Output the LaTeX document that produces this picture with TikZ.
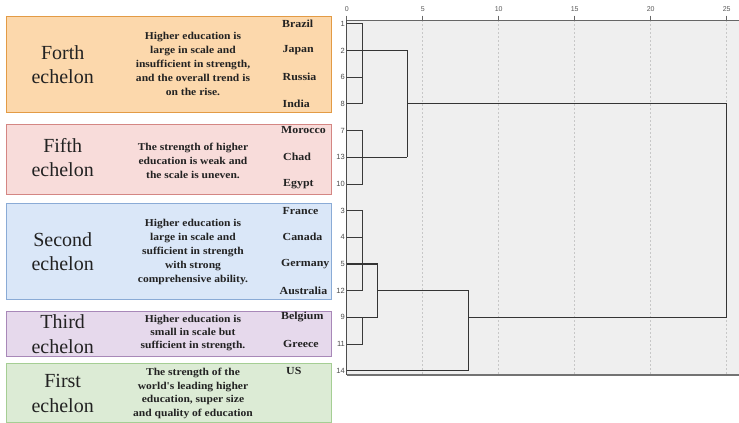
\documentclass[tikz,border=0pt]{standalone}
\usepackage{fontspec}
\setmainfont{Liberation Serif}
\newfontfamily\axisfont{Liberation Sans}
\newfontfamily\descfont[FakeStretch=1.1]{Liberation Serif}
\definecolor{forthfill}{HTML}{FCD8AC}
\definecolor{forthdraw}{HTML}{E39B45}
\definecolor{fifthfill}{HTML}{F8DCDA}
\definecolor{fifthdraw}{HTML}{D48683}
\definecolor{secondfill}{HTML}{DAE7F8}
\definecolor{seconddraw}{HTML}{8AABD6}
\definecolor{thirdfill}{HTML}{E6D9EC}
\definecolor{thirddraw}{HTML}{A888B8}
\definecolor{firstfill}{HTML}{DCEBD5}
\definecolor{firstdraw}{HTML}{A5CE94}
\definecolor{plotbg}{HTML}{EFEFEF}
\definecolor{txt}{HTML}{222222}
\definecolor{dendro}{HTML}{3A3A3A}
\begin{document}
\begin{tikzpicture}[x=1pt,y=-1pt,
  groupbox/.style={line width=1pt,minimum width=325.3pt,anchor=north west,inner sep=0pt},
  title/.style={font=\fontsize{20}{24.5}\selectfont,align=center,text=txt,inner sep=0pt},
  desc/.style={font=\descfont\bfseries\fontsize{10.5}{14}\selectfont,align=center,text=txt,inner sep=0pt},
  country/.style={font=\descfont\bfseries\fontsize{10.8}{12}\selectfont,anchor=west,text=txt,inner sep=0pt},
  rowlab/.style={font=\axisfont\fontsize{7.5}{9}\selectfont,anchor=east,text=black!70,inner sep=0pt},
  ticklab/.style={font=\axisfont\fontsize{7}{8}\selectfont,text=black!65,inner sep=0pt},
  grid line/.style={draw=black!22,dash pattern=on 2pt off 2pt,line width=0.6pt},
  leafline/.style={draw=dendro,line width=0.8pt},
  clusterline/.style={draw=dendro!90!black,line width=1.1pt}
]
\useasboundingbox (0,0) rectangle (739,423);
\fill[white] (0,0) rectangle (739,423);

% ---- group boxes ----
\node[groupbox,fill=forthfill,draw=forthdraw,minimum height=96.6pt] (bforth) at (5.7,15.7) {};
\node[groupbox,fill=fifthfill,draw=fifthdraw,minimum height=70pt] (bfifth) at (5.7,124) {};
\node[groupbox,fill=secondfill,draw=seconddraw,minimum height=95.7pt] (bsecond) at (5.7,203.3) {};
\node[groupbox,fill=thirdfill,draw=thirddraw,minimum height=45.6pt] (bthird) at (5.7,310.7) {};
\node[groupbox,fill=firstfill,draw=firstdraw,minimum height=58.5pt] (bfirst) at (5.7,363.3) {};

% ---- titles ----
\node[title] (tforth) at (62.7,64.5) {Forth\\echelon};
\node[title] (tfifth) at (62.7,157.5) {Fifth\\echelon};
\node[title] (tsecond) at (62.7,251.5) {Second\\echelon};
\node[title] (tthird) at (62.7,334) {Third\\echelon};
\node[title] (tfirst) at (62.7,393.5) {First\\echelon};

% ---- descriptions ----
\node[desc] (dforth) at (193,64) {Higher education is\\large in scale and\\insufficient in strength,\\and the overall trend is\\on the rise.};
\node[desc] (dfifth) at (193,160.5) {The strength of higher\\education is weak and\\the scale is uneven.};
\node[desc] (dsecond) at (193,251.5) {Higher education is\\large in scale and\\sufficient in strength\\with strong\\comprehensive ability.};
\node[desc,font=\descfont\bfseries\fontsize{10.5}{13}\selectfont] (dthird) at (193,333) {Higher education is\\small in scale but\\sufficient in strength.};
\node[desc,font=\descfont\bfseries\fontsize{10.5}{13.5}\selectfont] (dfirst) at (193,393.5) {The strength of the\\world's leading higher\\education, super size\\and quality of education};

% ---- plot area ----
\fill[plotbg] (346.7,20) rectangle (739,375);
\foreach \v in {5,10,15,20,25}{
  \draw[grid line] ({346.7+15.2*\v},20) -- ({346.7+15.2*\v},375);
}
\foreach \v in {0,5,10,15,20,25}{
  \draw[black!60,line width=0.6pt] ({346.7+15.2*\v},15.5) -- ({346.7+15.2*\v},20);
  \node[ticklab] (tick\v) at ({346.7+15.2*\v},9) {\v};
}
\draw[black!60,line width=1pt] (346.7,20) -- (739,20);
\draw[black!55,line width=1.4pt] (346.7,375) -- (739,375);
\draw[black!70,line width=0.8pt] (346.7,20) -- (346.7,375);

% ---- leaves ----
\foreach \n/\r in {1/0,2/1,6/2,8/3,7/4,13/5,10/6,3/7,4/8,5/9,12/10,9/11,11/12,14/13}{
  \coordinate (l\n) at (346.7,{23.7+26.7*\r});
  \node[rowlab] (r\n) at (345,{23.7+26.7*\r}) {\n};
}

% ---- countries ----
\node[country] (cbrazil) at ([xshift=-64.7pt]l1) {Brazil};
\node[country] (cjapan) at ([xshift=-64.2pt]l2) {Japan};
\node[country] (crussia) at ([xshift=-64.2pt]l6) {Russia};
\node[country] (cindia) at ([xshift=-64.2pt]l8) {India};
\node[country] (cmorocco) at ([xshift=-65.7pt]l7) {Morocco};
\node[country] (cchad) at ([xshift=-63.7pt]l13) {Chad};
\node[country] (cegypt) at ([xshift=-63.7pt]l10) {Egypt};
\node[country] (cfrance) at ([xshift=-64.2pt]l3) {France};
\node[country] (ccanada) at ([xshift=-64.2pt]l4) {Canada};
\node[country] (cgermany) at ([xshift=-65.7pt]l5) {Germany};
\node[country] (caustralia) at ([xshift=-67.2pt]l12) {Australia};
\node[country] (cbelgium) at ([xshift=-65.7pt]l9) {Belgium};
\node[country] (cgreece) at ([xshift=-63.7pt]l11) {Greece};
\node[country] (cus) at ([xshift=-60.7pt]l14) {US};

% ---- merge levels ----
\coordinate (v1) at (362,0);
\coordinate (v2) at (377.3,0);
\coordinate (v4) at (407.3,0);
\coordinate (v8) at (468.3,0);
\coordinate (v25) at (726.7,0);

% ---- dendrogram ----
\draw[leafline] (l1) -- (l1-|v1) -- (l8-|v1) -- (l8);
\draw[leafline] (l6) -- (l6-|v1);
\draw[clusterline] (l2) -- (l2-|v4);
\draw[leafline] (l7) -- (l7-|v1) -- (l10-|v1) -- (l10);
\draw[clusterline] (l13) -- (l13-|v4);
\draw[clusterline] (l2-|v4) -- (l13-|v4);
\draw[clusterline] (l8-|v4) -- (l8-|v25);
\draw[leafline] (l3) -- (l3-|v1) -- (l12-|v1) -- (l12);
\draw[leafline] (l4) -- (l4-|v1);
\draw[clusterline] (l5) -- (l5-|v2) -- (l9-|v2) -- (l9);
\draw[leafline] (l9-|v1) -- (l11-|v1) -- (l11);
\draw[clusterline] (l12-|v2) -- (l12-|v8) -- (l14-|v8) -- (l14);
\draw[clusterline] (l9-|v8) -- (l9-|v25) -- (l8-|v25);
\end{tikzpicture}
\end{document}
